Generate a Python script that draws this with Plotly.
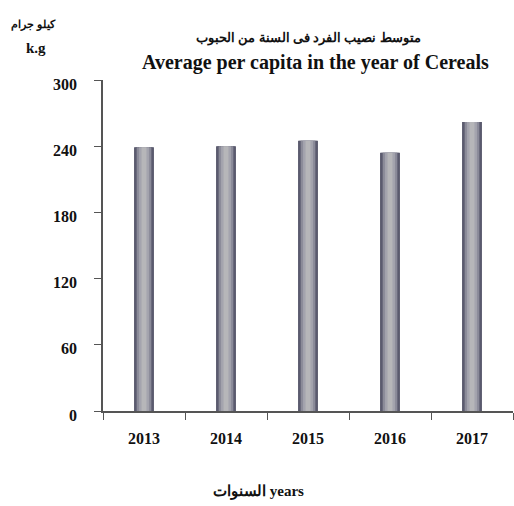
import plotly.graph_objects as go

years = ["2013", "2014", "2015", "2016", "2017"]
values = [239, 240, 245, 234, 262]
y_ticks = [0, 60, 120, 180, 240, 300]

title_ar = "متوسط نصيب الفرد فى السنة من الحبوب"
title_en = "Average per capita in the year of Cereals"
unit_ar = "كيلو جرام"
unit_en = "k.g"
xlabel_ar = "السنوات"
xlabel_en = "years"

serif = "Liberation Serif, Times New Roman, DejaVu Serif, serif"

fig = go.Figure()
# cylinder-like shading: overlaid bars of decreasing width
layers = [(0.24, "#44445a"), (0.21, "#6a6a7c"), (0.17, "#8c8c9a"), (0.12, "#a4a4ae"), (0.06, "#b6b6b9")]
for w, c in layers:
    fig.add_trace(go.Bar(x=years, y=values, width=w, marker=dict(color=c, line=dict(width=0)),
                         hoverinfo="x+y", showlegend=False))

fig.update_layout(
    width=514, height=506,
    barmode="overlay",
    plot_bgcolor="white", paper_bgcolor="white",
    margin=dict(l=103, r=1, t=80, b=95),
    font=dict(family=serif, color="#111111"),
    showlegend=False,
)
fig.update_xaxes(
    type="category", showline=True, linecolor="#555555", linewidth=1.5,
    ticks="outside", tickson="boundaries", ticklen=7, tickcolor="#555555",
    tickvals=years, ticktext=[f"<b>{y}</b>" for y in years], ticklabelstandoff=12,
    tickfont=dict(family=serif, size=16, color="#111111"),
    showgrid=False, zeroline=False,
)
fig.update_yaxes(
    range=[0, 300], tickvals=y_ticks, ticktext=[f"<b>{v}</b>" for v in y_ticks],
    showline=True, linecolor="#555555", linewidth=1.5,
    ticks="outside", ticklen=7, tickcolor="#555555", ticklabelstandoff=14,
    ticklabelshift=4,
    tickfont=dict(family=serif, size=16, color="#111111"),
    showgrid=False, zeroline=False,
)

ph = 506 - 80 - 95
pw = 514 - 103 - 1
def py(pix):
    return (506 - 95 - pix) / ph
def px(pix):
    return (pix - 103) / pw

def label(text, x, y, size):
    fig.add_annotation(text=text, xref="paper", yref="paper", x=px(x), y=py(y),
                       xanchor="center", yanchor="middle", showarrow=False,
                       font=dict(family=serif, size=size, color="#111111"))

label(f"<b>{title_ar}</b>", 308, 38, 13)
label(f"<b>{title_en}</b>", 315, 62, 20)
label(f"<b>{unit_ar}</b>", 33, 25, 11)
label(f"<b>{unit_en}</b>", 36, 48, 15)
label(f"<b>{xlabel_ar} {xlabel_en}</b>", 258, 491, 15)

fig.write_html("out.html", config={"displayModeBar": False},
               post_script="document.body.style.margin='0';")
